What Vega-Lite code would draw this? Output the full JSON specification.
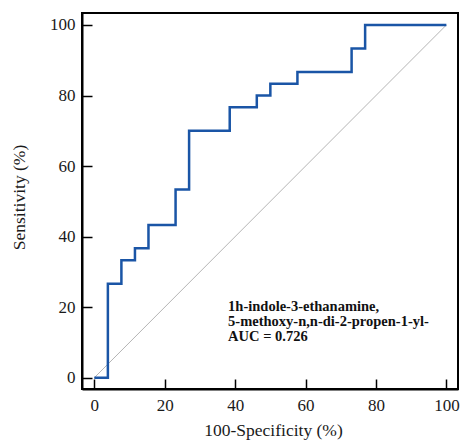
{
  "$schema": "https://vega.github.io/schema/vega-lite/v6.json",
  "width": 376,
  "height": 376,
  "autosize": {"type": "none"},
  "padding": {"left": 82, "top": 13, "right": 5, "bottom": 54},
  "background": "white",
  "config": {
    "view": {"stroke": "black", "strokeWidth": 2},
    "font": "Liberation Serif",
    "axis": {
      "grid": false,
      "domainColor": "black",
      "domainWidth": 2,
      "tickColor": "black",
      "tickWidth": 1.5,
      "tickSize": -10,
      "labelFont": "Liberation Serif",
      "labelFontSize": 17,
      "labelColor": "#1a1a1a",
      "titleFont": "Liberation Serif",
      "titleFontSize": 17.5,
      "titleFontWeight": "normal",
      "titleColor": "#1a1a1a"
    }
  },
  "datasets": {
    "roc": [
      {"fpr": 0, "tpr": 0},
      {"fpr": 3.85, "tpr": 26.67},
      {"fpr": 7.69, "tpr": 33.33},
      {"fpr": 11.54, "tpr": 36.67},
      {"fpr": 15.38, "tpr": 43.33},
      {"fpr": 23.08, "tpr": 53.33},
      {"fpr": 26.92, "tpr": 70},
      {"fpr": 38.46, "tpr": 76.67},
      {"fpr": 46.15, "tpr": 80},
      {"fpr": 50, "tpr": 83.33},
      {"fpr": 57.69, "tpr": 86.67},
      {"fpr": 73.08, "tpr": 93.33},
      {"fpr": 76.92, "tpr": 100},
      {"fpr": 100, "tpr": 100}
    ],
    "diag": [
      {"fpr": 0, "tpr": 0},
      {"fpr": 100, "tpr": 100}
    ],
    "notes": [
      {"fpr": 38, "tpr": 20.05, "label": "1h-indole-3-ethanamine,"},
      {"fpr": 38, "tpr": 15.8, "label": "5-methoxy-n,n-di-2-propen-1-yl-"},
      {"fpr": 38, "tpr": 11.5, "label": "AUC = 0.726"}
    ]
  },
  "encoding": {
    "x": {
      "field": "fpr",
      "type": "quantitative",
      "scale": {"domain": [-3.5, 103.3], "nice": false, "zero": false},
      "axis": {"values": [0, 20, 40, 60, 80, 100], "title": "100-Specificity (%)", "labelPadding": 18, "titlePadding": 8, "titleX": 191}
    },
    "y": {
      "field": "tpr",
      "type": "quantitative",
      "scale": {"domain": [-3.2, 103.4], "nice": false, "zero": false},
      "axis": {"values": [0, 20, 40, 60, 80, 100], "title": "Sensitivity (%)", "labelPadding": 17, "titlePadding": 21, "titleY": 184}
    }
  },
  "layer": [
    {
      "data": {"name": "diag"},
      "mark": {"type": "line", "color": "#b5b5b5", "strokeWidth": 1}
    },
    {
      "data": {"name": "roc"},
      "mark": {"type": "line", "interpolate": "step-after", "color": "#1a55a6", "strokeWidth": 2.5}
    },
    {
      "data": {"name": "notes"},
      "mark": {"type": "text", "align": "left", "baseline": "middle", "font": "Liberation Serif", "fontSize": 14.5, "fontWeight": "bold", "color": "#111"},
      "encoding": {"text": {"field": "label"}}
    }
  ]
}
